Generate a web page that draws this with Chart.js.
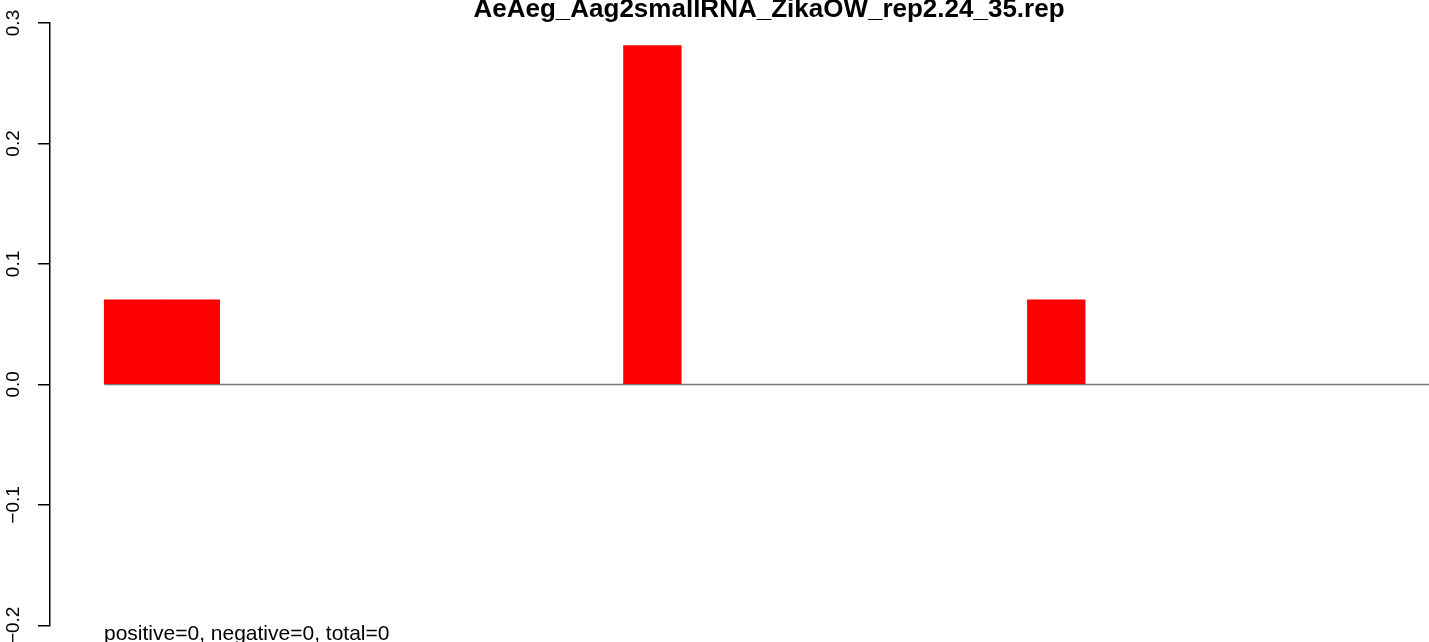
<!DOCTYPE html>
<html>
<head>
<meta charset="utf-8">
<title>AeAeg_Aag2smallRNA_ZikaOW_rep2.24_35.rep</title>
<script src="https://cdn.jsdelivr.net/npm/chart.js@4.4.1/dist/chart.umd.min.js"></script>
<style>
  html, body { margin: 0; padding: 0; background: #fff; overflow: hidden; }
  #wrap { width: 1429px; height: 642px; }
</style>
</head>
<body>
<div id="wrap"><canvas id="chart" width="1429" height="642"></canvas></div>
<script>
/* values */
const positions = [1, 2, 3, 4, 5, 6, 7, 8, 9, 10, 11, 12, 13, 14, 15, 16, 17, 18, 19, 20, 21, 22, 23];
const values = [0.0703, 0.0703, 0, 0, 0, 0, 0, 0, 0, 0.2813, 0, 0, 0, 0, 0, 0, 0.0703, 0, 0, 0, 0, 0, 0];
const yTicks = [-0.2, -0.1, 0.0, 0.1, 0.2, 0.3];
const chartTitle = 'AeAeg_Aag2smallRNA_ZikaOW_rep2.24_35.rep';
const footNote = 'positive=0, negative=0, total=0';

const FONT = '"Liberation Sans", Arial, Helvetica, sans-serif';
const TICK_SIZE = 19;

/* R style labels: one decimal, real minus sign */
function fmt(v) {
  return v.toFixed(1).replace('-', '\u2212');
}

/* y labels are rotated, centre them on x=14 */
const meas = document.createElement('canvas').getContext('2d');
meas.font = TICK_SIZE + 'px ' + FONT;
const widest = Math.max(...yTicks.map(v => meas.measureText(fmt(v)).width));
const axisWidth = 50;
const tickLen = 12;
const labelPad = axisWidth - tickLen - 14 - widest / 2;

/* title + footnote text */
const annotateText = {
  id: 'annotateText',
  afterDraw(chart) {
    const ctx = chart.ctx;
    ctx.save();
    ctx.fillStyle = '#000';
    ctx.textBaseline = 'alphabetic';
    ctx.font = 'bold 26px ' + FONT;
    ctx.textAlign = 'center';
    ctx.fillText(chartTitle, 769, 17);
    ctx.font = '21px ' + FONT;
    ctx.textAlign = 'left';
    ctx.fillText(footNote, 104, 640);
    ctx.restore();
  }
};

new Chart(document.getElementById('chart'), {
  type: 'bar',
  data: {
    datasets: [
      {
        type: 'bar',
        data: positions.map((p, i) => ({ x: p, y: values[i] })),
        // empty bars would still leave a red hairline, keep them clear
        backgroundColor: ctx => (ctx.raw && ctx.raw.y !== 0 ? '#ff0000' : 'rgba(0,0,0,0)'),
        borderWidth: 0,
        barPercentage: 1,
        categoryPercentage: 1,
        order: 0
      },
      {
        // zero line under the bars
        type: 'line',
        data: [
          { x: positions[0] - 0.5, y: 0 },
          { x: positions[positions.length - 1] + 0.5, y: 0 }
        ],
        borderColor: '#7a7a7a',
        backgroundColor: '#7a7a7a',
        borderWidth: 1.5,
        pointRadius: 0,
        fill: false,
        order: 1
      }
    ]
  },
  options: {
    responsive: false,
    animation: false,
    devicePixelRatio: 1,
    layout: { padding: { top: 23, bottom: 15, left: 0, right: 0 } },
    plugins: {
      legend: { display: false },
      tooltip: { enabled: false },
      title: { display: false }
    },
    scales: {
      x: {
        type: 'linear',
        min: -0.44,
        max: 23.46,
        offset: false,
        display: false
      },
      y: {
        min: -0.2,
        max: 0.3,
        afterFit(scale) { scale.width = axisWidth; },
        afterBuildTicks(scale) { scale.ticks = yTicks.map(v => ({ value: v })); },
        border: { display: true, color: '#000', width: 1.5 },
        grid: { drawOnChartArea: false, drawTicks: true, tickLength: tickLen, color: '#000', lineWidth: 1.5 },
        ticks: {
          autoSkip: false,
          minRotation: 90,
          maxRotation: 90,
          crossAlign: 'center',
          padding: labelPad,
          color: '#000',
          font: { family: FONT, size: TICK_SIZE },
          callback: v => fmt(v)
        }
      }
    }
  },
  plugins: [annotateText]
});
</script>
</body>
</html>
